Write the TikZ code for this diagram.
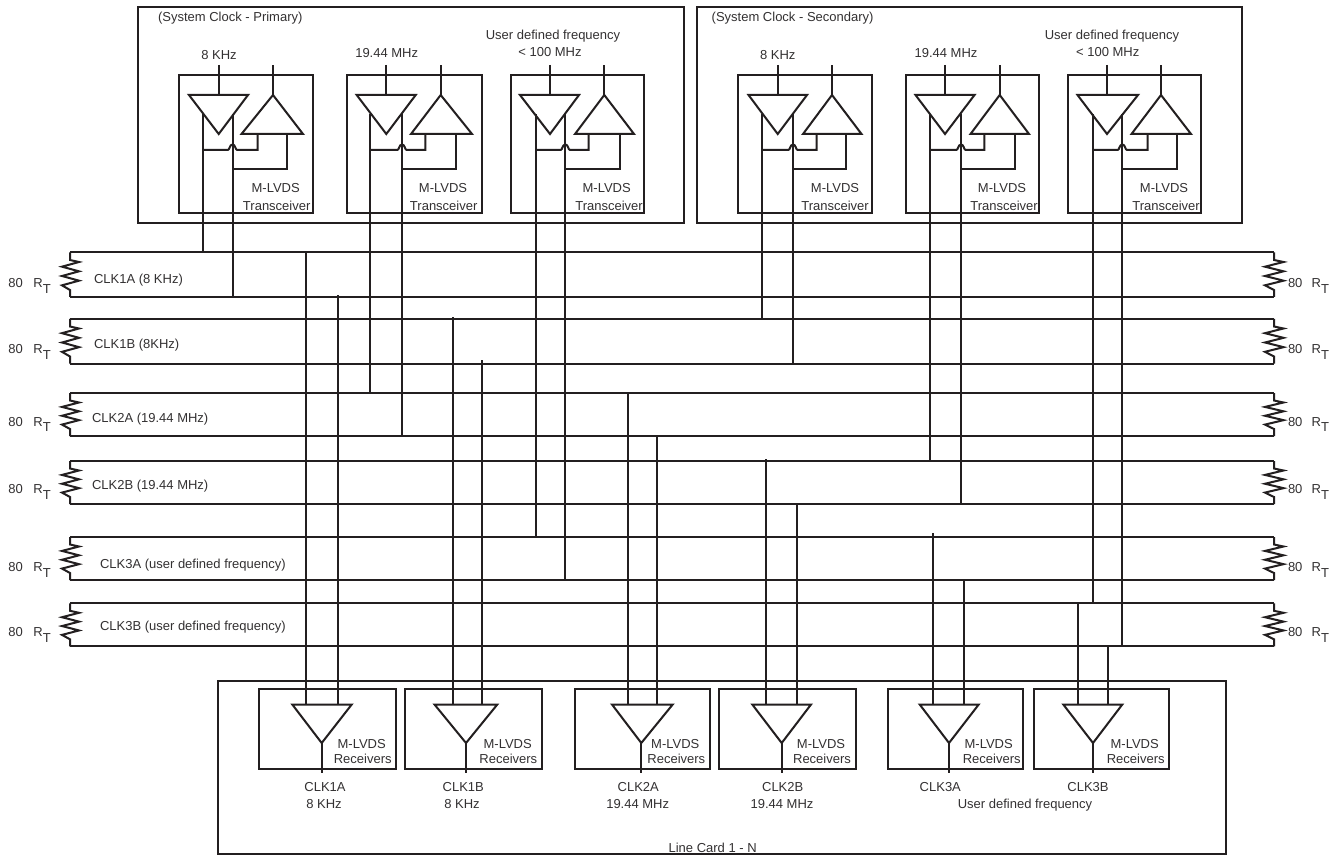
\documentclass[tikz,border=0pt]{standalone}
\usepackage{fontspec}
\setmainfont{Liberation Sans}
\definecolor{ink}{HTML}{231F20}
\definecolor{txt}{HTML}{333132}
\tikzset{
  wire/.style={draw=ink,line width=1.5pt,line join=miter},
  lab/.style={inner sep=0pt,outer sep=0pt,text=txt,font=\fontsize{9.75}{11}\selectfont,anchor=base,yshift=-3.5pt},
  labw/.style={lab,anchor=base west},
}
\newcommand{\RT}{R\raisebox{-4.2pt}{T}}
\begin{document}
\begin{tikzpicture}[x=0.75pt,y=-0.75pt]
\useasboundingbox (0,0) rectangle (1341,855);
\fill[white] (0,0) rectangle (1341,855);

% enclosures
\draw[wire] (138,7) rectangle (684,223);
\draw[wire] (697,7) rectangle (1242,223);
\draw[wire] (218.3,681) rectangle (1226,853.5);
\node[labw] (titleP) at (158,16.5) {(System Clock - Primary)};
\node[labw] (titleS) at (711.7,16.5) {(System Clock - Secondary)};
\node[lab] (linecard) at (712.7,848) {Line Card 1 - N};

% buses: name / top / bottom / label x / label y / label / rt y
\foreach \n/\t/\b/\lx/\ly/\lab/\ry in {
  A/252.5/297/94/279/{CLK1A (8 KHz)}/283,
  B/319/363.5/94/343.5/{CLK1B (8KHz)}/349,
  C/393/436/92/418/{CLK2A (19.44 MHz)}/421.7,
  D/461/504/92/484.7/{CLK2B (19.44 MHz)}/489,
  E/537/580/100/563.7/{CLK3A (user defined frequency)}/567.3,
  F/603.3/646.3/100/626.3/{CLK3B (user defined frequency)}/632.3}{
  \coordinate (\n tl) at (70,\t);
  \coordinate (\n tr) at (1274,\t);
  \coordinate (\n bl) at (70,\b);
  \coordinate (\n br) at (1274,\b);
  \pgfmathsetmacro{\h}{\b-\t}
  \pgfmathsetmacro{\s}{(\h-16.5)/6}
  \draw[wire] (\n tl) -- (\n tr);
  \draw[wire] (\n bl) -- (\n br);
  \draw[wire] (\n tl) -- ++(0,7.5) -- ++(9,2) -- ++(-17,\s) -- ++(17,\s) -- ++(-17,\s) -- ++(17,\s) -- ++(-17,\s) -- ++(8,\s) -- (\n bl);
  \draw[wire] (\n tr) -- ++(0,7.5) -- ++(9.5,2) -- ++(-18.5,\s) -- ++(18.5,\s) -- ++(-18.5,\s) -- ++(18.5,\s) -- ++(-18.5,\s) -- ++(9,\s) -- (\n br);
  \node[labw] (lab\n) at (\lx,\ly) {\lab};
  \node[labw] (ohmL\n) at (8.5,\ry) {80};
  \node[labw] (rtL\n) at (33.5,\ry) {\RT};
  \node[labw] (ohmR\n) at (1288,\ry) {80};
  \node[labw] (rtR\n) at (1311.7,\ry) {\RT};
}

% transceivers
\foreach \n/\L/\R/\dl/\dr/\da/\a/\b/\ul/\ur/\ua/\fa/\fb/\ya/\yb/\mx/\tx in {
  1/179/312.5/189/248/218.7/203/232.5/241.5/303/273/257.7/286.7/A/A/275.7/276.7,
  2/347/482/356.7/415.7/386.3/370.3/402/411/472/440.7/425.3/456/C/C/443/443.7,
  3/510.5/643.7/520/579/550/536/565.3/575/634/604.3/588.7/620/E/E/606.7/609,
  4/738/871.7/748.5/807/777.7/762.3/793/803/861.5/832/816.7/845.7/B/B/835/835,
  5/905.7/1039/915.5/974.5/945/929.7/961/970.5/1029/999.7/984.3/1015/D/D/1002/1004,
  6/1067.7/1200.7/1077.5/1138/1107/1093/1122.3/1131.5/1191/1161/1147.7/1177/F/F/1164/1166}{
  \draw[wire] (\L,75) rectangle (\R,213.5);
  \coordinate (Tdl\n) at (\dl,95);
  \coordinate (Tdr\n) at (\dr,95);
  \coordinate (Tda\n) at (\da,134);
  \coordinate (Tul\n) at (\ul,134);
  \coordinate (Tur\n) at (\ur,134);
  \coordinate (Tua\n) at (\ua,95);
  \coordinate (Ta\n) at (\a,114.5);
  \coordinate (Tb\n) at (\b,114.5);
  \draw[wire] (Tdl\n) -- (Tdr\n) -- (Tda\n) -- cycle;
  \draw[wire] (Tul\n) -- (Tur\n) -- (Tua\n) -- cycle;
  \draw[wire] (\da,65) -- (\da,95);
  \draw[wire] (Tua\n) -- (\ua,65);
  \draw[wire] (Ta\n) -- (Ta\n |- \ya tl);
  \draw[wire] (Tb\n) -- (Tb\n |- \yb bl);
  \draw[wire] (\a,150) -- ({\b-4.7},150) .. controls ({\b-2.8},150) and ({\b-3},144.5) .. (\b,144.5) .. controls ({\b+3},144.5) and ({\b+2.8},150) .. ({\b+4.7},150) -- (\fa,150) -- (\fa,134);
  \draw[wire] (\b,169) -- (\fb,169) -- (\fb,134);
  \node[lab] (Tm\n) at (\mx,187.5) {M-LVDS};
  \node[lab] (Tt\n) at (\tx,206) {Transceiver};
}
\node[lab] (f1) at (219,55) {8 KHz};
\node[lab] (f2) at (386.7,53) {19.44 MHz};
\node[lab] (f3) at (553,35) {User defined frequency};
\node[lab] (f3b) at (550,52) {< 100 MHz};
\node[lab] (f4) at (777.7,55) {8 KHz};
\node[lab] (f5) at (946,53) {19.44 MHz};
\node[lab] (f6) at (1112,35) {User defined frequency};
\node[lab] (f6b) at (1107.7,52) {< 100 MHz};

% receivers
\foreach \n/\L/\R/\dl/\dr/\da/\a/\b/\ya/\yb/\sa/\sb/\mx/\tx/\cx/\cl in {
  1/259.3/396/292.3/351.7/321.7/306.3/337.7/A/A/252.5/295/361.7/362.7/325/CLK1A,
  2/405.3/542/434.5/497.3/466/452.7/482/B/B/317/360/507.7/508.3/463.3/CLK1B,
  3/574.7/709.7/612/672.7/641.3/627.7/657/C/C/393/436/675.3/676.3/638.3/CLK2A,
  4/719/855.7/752.3/811/781.7/765.7/797.3/D/D/458.7/504/821/822/782.7/CLK2B,
  5/888.3/1023.3/919.7/978.7/949/933.3/964.3/E/E/532.7/580/988.7/991.7/940.3/CLK3A,
  6/1034.3/1169.3/1063.3/1122.3/1093/1077.5/1108.3/F/F/603.3/646.3/1134.7/1135.7/1088/CLK3B}{
  \draw[wire] (\L,689) rectangle (\R,769);
  \coordinate (Rl\n) at (\dl,704.5);
  \coordinate (Rr\n) at (\dr,704.5);
  \coordinate (Rx\n) at (\da,743);
  \coordinate (Ra\n) at (\a,704.5);
  \coordinate (Rb\n) at (\b,704.5);
  \draw[wire] (Rl\n) -- (Rr\n) -- (Rx\n) -- cycle;
  \draw[wire] (Rx\n) -- (\da,773);
  \draw[wire] (Ra\n) -- (\a,\sa);
  \draw[wire] (Rb\n) -- (\b,\sb);
  \node[lab] (Rm\n) at (\mx,743.7) {M-LVDS};
  \node[lab] (Rt\n) at (\tx,758.7) {Receivers};
  \node[lab] (Rc\n) at (\cx,787) {\cl};
}
\node[lab] (o1) at (324,803.7) {8 KHz};
\node[lab] (o2) at (462,803.7) {8 KHz};
\node[lab] (o3) at (637.7,803.7) {19.44 MHz};
\node[lab] (o4) at (782,803.7) {19.44 MHz};
\node[lab] (o5) at (1025,803.7) {User defined frequency};
\end{tikzpicture}
\end{document}
